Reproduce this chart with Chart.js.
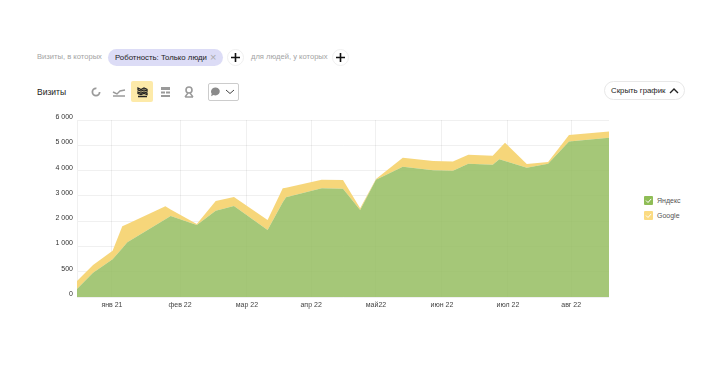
<!DOCTYPE html>
<html>
<head>
<meta charset="utf-8">
<script src="https://cdn.jsdelivr.net/npm/chart.js@4"></script>
<style>
  html, body { margin: 0; background: #fff; }
  body { width: 720px; height: 384px; position: relative; overflow: hidden; font-family: "Liberation Sans", Arial, sans-serif; }
  .abs { position: absolute; white-space: nowrap; }
  .hint { color: #a3a3a3; font-size: 7.6px; line-height: 12px; }
  .pill { left: 108px; top: 49px; width: 115px; height: 17px; border-radius: 9px; background: #dcdcf6; color: #222; font-size: 7.8px; line-height: 17px; padding-left: 7px; box-sizing: border-box; }
  .pill i { position: absolute; left: 102px; top: 0; font-style: normal; color: #aaa; font-size: 11px; }
  .plus { width: 17px; height: 17px; border-radius: 50%; border: 1px solid #f0f0f0; box-sizing: border-box; }
  .plus svg { position: absolute; left: 2px; top: 2px; }
  .title { left: 37px; top: 86px; font-size: 8.5px; line-height: 12px; color: #222; }
  .active { left: 131px; top: 81px; width: 22px; height: 21px; background: #fdeaa9; border-radius: 2px; }
  .drop { left: 208px; top: 83px; width: 31px; height: 18px; border: 1px solid #ccc; box-sizing: border-box; border-radius: 2px; }
  .hide { left: 604px; top: 81px; width: 81px; height: 19px; border: 1px solid #e8e8e8; border-radius: 10px; box-sizing: border-box; font-size: 7.8px; line-height: 17px; color: #222; padding-left: 6px; }
  .hide svg { position: absolute; left: 64px; top: 5px; }
  .box { width: 9px; height: 9px; border-radius: 1px; }
  .box svg { display: block; }
  .leg { font-size: 7px; line-height: 10px; color: #555; }
  #wrap { position: absolute; left: 0; top: 110px; width: 620px; height: 205px; }
</style>
</head>
<body>
<div class="abs hint" style="left:37px;top:51px">Визиты, в которых</div>
<div class="abs pill">Роботность: Только люди<i>×</i></div>
<div class="abs plus" style="left:227px;top:49px"><svg width="11" height="11"><path d="M5.5 1v9M1 5.5h9" stroke="#111" stroke-width="1.6"/></svg></div>
<div class="abs hint" style="left:251px;top:51px">для людей, у которых</div>
<div class="abs plus" style="left:332px;top:49px"><svg width="11" height="11"><path d="M5.5 1v9M1 5.5h9" stroke="#111" stroke-width="1.6"/></svg></div>

<div class="abs title">Визиты</div>
<div class="abs active"></div>
<svg class="abs" style="left:88px;top:84px" width="110" height="16" fill="none">
  <circle cx="8" cy="8" r="3.6" stroke="#9a9a9a" stroke-width="1.8" stroke-dasharray="17 6"/>
  <path d="M25 8l4 2 3-3 5-1M25 12h12" stroke="#9a9a9a" stroke-width="1.4"/>
  <path d="M50 4l3 1.5 3-1.5 3 1.5V7l-3-1-3 1-3-1zM50 8l3 1 3-1 3 1v1.5l-3-1-3 1-3-1zM50 12.5h9" stroke="#222" stroke-width="1.3"/>
  <path d="M73 3h9v3h-9zM73 7.5h4v2h-4zM78 7.5h4v2h-4zM73 11h9v2h-9z" fill="#9a9a9a"/>
  <circle cx="101" cy="6" r="3" stroke="#9a9a9a" stroke-width="1.6"/><path d="M97 13l3-4M105 13l-3-4M97 13h8" stroke="#9a9a9a" stroke-width="1.4"/>
</svg>
<div class="abs drop"><svg width="29" height="16" fill="none"><path d="M2 7.5a4.4 4 0 1 1 2.5 3.5l-2.4 1.2.6-2.4a4 4 0 0 1-.7-2.3z" fill="#8a8a8a"/><path d="M17 6l4 3.5 4-3.5" stroke="#444"/></svg></div>
<div class="abs hide">Скрыть график<svg width="10" height="7" fill="none"><path d="M1 6l4-4 4 4" stroke="#222" stroke-width="1.4"/></svg></div>

<div id="wrap"><canvas id="chart"></canvas></div>

<div class="abs box" style="left:644px;top:196px;background:#8fbd56"><svg width="9" height="9" fill="none"><path d="M2 4.5l2 2 3.2-3.6" stroke="#fff"/></svg></div>
<div class="abs leg" style="left:657px;top:196px">Яндекс</div>
<div class="abs box" style="left:644px;top:211px;background:#fbdb82"><svg width="9" height="9" fill="none"><path d="M2 4.5l2 2 3.2-3.6" stroke="#fff"/></svg></div>
<div class="abs leg" style="left:657px;top:211px">Google</div>

<script>
// days since the start of the period, one entry per vertex
const days = [0, 7.3, 16.2, 20.6, 22.9, 40.2, 42.6, 54.5, 63.1, 71.4, 86.7, 93.6, 95.1, 111.3,
  121, 128.8, 136, 148.2, 162, 171, 178, 189.1, 192.1, 194.7, 204.6, 214.3, 223.8, 242];
const yandex = [158, 480, 745, 966, 1162, 2071, 2202, 1846, 2411, 2597, 1648, 2743, 2941, 3296,
  3281, 2439, 3636, 4150, 4008, 3992, 4269, 4229, 4443, 4375, 4111, 4269, 5146, 5296];
const google = [158, 152, 170, 828, 723, 514, 260, 39, 383, 356, 395, 553, 383, 340,
  344, 67, 28, 356, 367, 364, 356, 356, 419, 724, 146, 67, 257, 253];

const monthDays = [15.9, 46.9, 77.3, 106.5, 136, 166, 196, 224.8];
const monthLabels = ["янв 21", "фев 22", "мар 22", "апр 22", "май22", "июн 22", "июл 22", "авг 22"];
const yTicks = [0, 500, 1000, 2000, 3000, 4000, 5000, 6000];
const yLabels = ["0", "500", "1 000", "2 000", "3 000", "4 000", "5 000", "6 000"];

// the y axis has equal steps between unequal tick values
class SteppedScale extends Chart.LinearScale {
  buildTicks() {
    return yTicks.map(value => ({ value }));
  }
  getPixelForValue(value) {
    let i = 0;
    while (i < yTicks.length - 2 && value > yTicks[i + 1]) i++;
    const pos = i + (value - yTicks[i]) / (yTicks[i + 1] - yTicks[i]);
    return this.bottom - pos / (yTicks.length - 1) * this.height;
  }
}
SteppedScale.id = "stepped";
SteppedScale.defaults = {};
Chart.register(SteppedScale);

Chart.defaults.font.family = '"Liberation Sans", Arial, sans-serif';

const toPoints = values => values.map((v, i) => ({ x: days[i], y: v }));

new Chart(document.getElementById("chart"), {
  type: "line",
  data: {
    datasets: [
      { label: "Яндекс", data: toPoints(yandex), fill: "origin", backgroundColor: "rgba(149,189,96,0.85)", borderWidth: 0, pointRadius: 0, tension: 0 },
      { label: "Google", data: toPoints(google), fill: "-1", backgroundColor: "rgba(246,212,115,0.95)", borderWidth: 0, pointRadius: 0, tension: 0 }
    ]
  },
  options: {
    responsive: true,
    maintainAspectRatio: false,
    animation: false,
    layout: { padding: { top: 10, right: 11, left: 0, bottom: 0 } },
    plugins: { legend: { display: false }, tooltip: { enabled: false } },
    scales: {
      x: {
        type: "linear",
        min: 0,
        max: 242,
        afterBuildTicks: s => { s.ticks = monthDays.map(value => ({ value })); },
        afterFit: s => { s.height = 18; },
        grid: { color: "rgba(0,0,0,0.06)", drawTicks: false },
        border: { display: false },
        ticks: {
          callback: (v, i) => monthLabels[i],
          autoSkip: false,
          maxRotation: 0,
          padding: 4,
          color: "#444",
          font: { size: 7 }
        }
      },
      y: {
        type: "stepped",
        stacked: true,
        min: 0,
        max: 6000,
        afterFit: s => { s.width = 77; },
        grid: { color: "rgba(0,0,0,0.06)", drawTicks: false },
        border: { display: true, color: "rgba(0,0,0,0.06)" },
        ticks: {
          callback: (v, i) => yLabels[i],
          autoSkip: false,
          padding: 4,
          labelOffset: -3,
          color: "#333",
          font: { size: 7 }
        }
      }
    }
  }
});
</script>
</body>
</html>
